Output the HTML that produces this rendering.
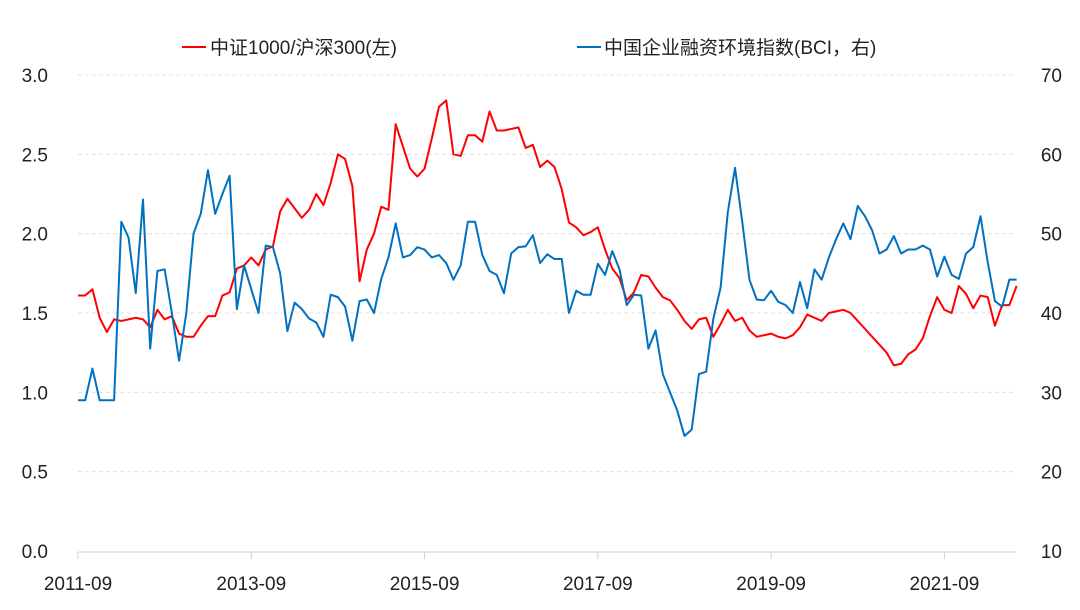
<!DOCTYPE html>
<html><head><meta charset="utf-8">
<style>
body{margin:0;background:#fff;}
svg text{font-family:"Liberation Sans","Noto Sans CJK SC",sans-serif;fill:#222;}
</style></head>
<body>
<svg id="chart" width="1080" height="605" viewBox="0 0 1080 605" xmlns="http://www.w3.org/2000/svg">
<g id="grid"></g>
<g id="axes"></g>
<g id="series"></g>
<g>
  <line x1="182" y1="47" x2="206" y2="47" stroke="#ff0000" stroke-width="2"/>
  <text x="210" y="54" font-size="19">中证1000/沪深300(左)</text>
  <line x1="577" y1="47" x2="601" y2="47" stroke="#0070c0" stroke-width="2"/>
  <text x="604" y="54" font-size="19">中国企业融资环境指数(BCI，右)</text>
</g>
</svg>
<script>
const ratioValues=[1.61,1.61,1.65,1.47,1.38,1.46,1.45,1.46,1.47,1.46,1.41,1.52,1.46,1.48,1.37,1.35,1.35,1.42,1.48,1.48,1.61,1.63,1.78,1.80,1.85,1.80,1.90,1.92,2.14,2.22,2.16,2.10,2.15,2.25,2.18,2.32,2.50,2.47,2.30,1.70,1.90,2.00,2.17,2.15,2.69,2.55,2.41,2.36,2.41,2.60,2.80,2.84,2.50,2.49,2.62,2.62,2.58,2.77,2.65,2.65,2.66,2.67,2.54,2.56,2.42,2.46,2.42,2.28,2.07,2.04,1.99,2.01,2.04,1.90,1.78,1.72,1.58,1.63,1.74,1.73,1.66,1.60,1.58,1.52,1.45,1.40,1.46,1.47,1.35,1.43,1.52,1.45,1.47,1.39,1.35,1.36,1.37,1.35,1.34,1.36,1.41,1.49,1.47,1.45,1.50,1.51,1.52,1.50,1.45,1.40,1.35,1.30,1.25,1.17,1.18,1.24,1.27,1.34,1.48,1.60,1.52,1.50,1.67,1.62,1.53,1.61,1.60,1.42,1.55,1.55,1.67];
const bciValues=[29,29,33,29,29,29,51.5,49.5,42.5,54.3,35.5,45.3,45.5,40,34,40,50,52.5,58,52.5,55,57.3,40.5,46,43,40,48.5,48.3,45,37.7,41.3,40.5,39.3,38.8,37,42.3,42,40.8,36.5,41.5,41.7,40,44.3,47,51.3,47,47.3,48.3,48,47,47.3,46.3,44.2,46,51.5,51.5,47.3,45.3,44.8,42.5,47.5,48.3,48.4,49.8,46.3,47.4,46.8,46.8,40,42.8,42.3,42.3,46.2,44.8,47.8,45.5,41,42.3,42.2,35.5,37.8,32.3,30,27.7,24.5,25.3,32.3,32.6,39.3,43.2,52.7,58.3,51.5,44.2,41.7,41.6,42.8,41.4,41,40,43.9,40.6,45.5,44.2,47,49.3,51.3,49.3,53.5,52.2,50.4,47.5,48,49.7,47.5,48,48,48.5,48,44.6,47.1,44.8,44.3,47.5,48.3,52.2,46.4,41.5,40.8,44.2,44.2];
const leftTicks=[0,0.5,1,1.5,2,2.5,3];
const rightTicks=[10,20,30,40,50,60,70];
const xTickLabels=["2011-09","2013-09","2015-09","2017-09","2019-09","2021-09"];
const xTickIndex=[0,24,48,72,96,120];

const X0=78,STEP=7.22,Y0=551,Y1=75;
const xS=i=>X0+i*STEP;
const yL=v=>Y0-(v-0)/(3-0)*(Y0-Y1);
const yR=v=>Y0-(v-10)/(70-10)*(Y0-Y1);
const NS="http://www.w3.org/2000/svg";
function mk(tag,attrs,parent){const e=document.createElementNS(NS,tag);for(const k in attrs)e.setAttribute(k,attrs[k]);parent.appendChild(e);return e;}
const grid=document.getElementById('grid'),axes=document.getElementById('axes'),series=document.getElementById('series');
leftTicks.forEach((t,k)=>{
  const y=yL(t);
  if(k>0){const g=mk('line',{x1:X0,x2:1016,y1:y,y2:y,stroke:'#e0e0e0','stroke-dasharray':'4,3'},grid);
  
  }
  const tx=mk('text',{x:48,y:y+7,'font-size':19,'text-anchor':'end'},axes);tx.textContent=t.toFixed(1);
  
  
});
rightTicks.forEach(t=>{
  const y=yR(t);
  const tx=mk('text',{x:1062,y:y+7,'font-size':19,'text-anchor':'end'},axes);tx.textContent=t;
  
  
});
const ax=mk('line',{x1:X0,x2:1016,y1:552,y2:552,stroke:'#d0d0d0','stroke-width':1},axes);


xTickIndex.forEach((idx,k)=>{
  const x=xS(idx);
  const tk=mk('line',{x1:x,x2:x,y1:552,y2:559,stroke:'#d0d0d0'},axes);
  
  
  const tx=mk('text',{x:x,y:590,'font-size':19,'text-anchor':'middle'},axes);tx.textContent=xTickLabels[k];
  
  
});
const pr=mk('polyline',{points:ratioValues.map((v,i)=>xS(i)+','+yL(v)).join(' '),fill:'none',stroke:'#ff0000','stroke-width':2,'stroke-linejoin':'round'},series);


const pb=mk('polyline',{points:bciValues.map((v,i)=>xS(i)+','+yR(v)).join(' '),fill:'none',stroke:'#0070c0','stroke-width':2,'stroke-linejoin':'round'},series);


</script>
</body></html>
